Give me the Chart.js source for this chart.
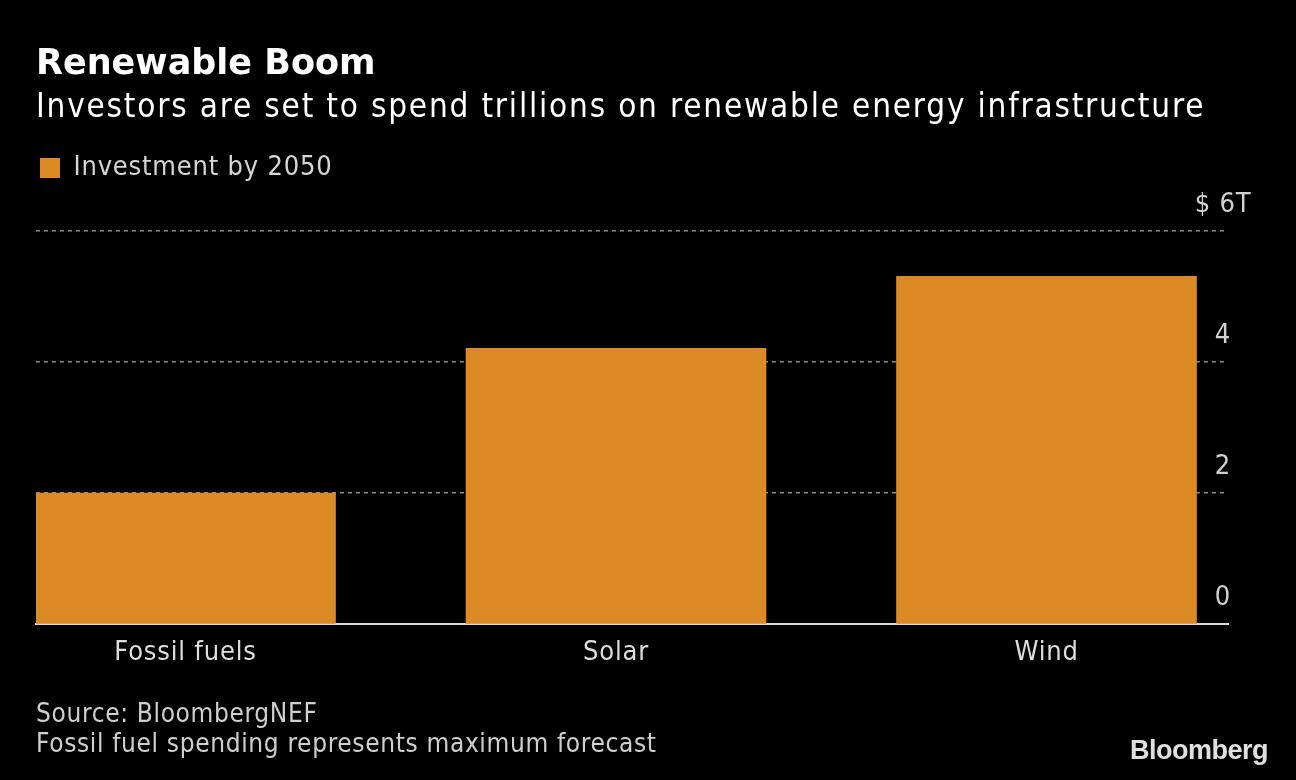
<!DOCTYPE html>
<html>
<head>
<meta charset="utf-8">
<script src="https://cdn.jsdelivr.net/npm/chart.js@4.4.0/dist/chart.umd.min.js"></script>
<style>
  html, body { margin: 0; padding: 0; background: #000; }
  #wrap { position: relative; width: 1296px; height: 780px; background: #000; overflow: hidden; }
  #c { position: absolute; left: 0; top: 0; }
  .txt { position: absolute; left: 36px; font-family: "DejaVu Sans Condensed", "DejaVu Sans", sans-serif; white-space: nowrap; line-height: 1; }
  #title { top: 45px; font-family: "DejaVu Sans", sans-serif; font-size: 35px; font-weight: bold; color: #fff; letter-spacing: 0px; }
  #subtitle { top: 89px; font-size: 33px; color: #fff; letter-spacing: 1.8px; }
  .foot { font-size: 26px; color: #cfcfcf; letter-spacing: 0.65px; line-height: 30px; }
  #logo { position: absolute; right: 28px; top: 735px; color: #e0e0e0; font-family: "Liberation Sans", Arial, sans-serif; font-weight: bold; font-size: 27px; letter-spacing: -0.5px; }
</style>
</head>
<body>
<div id="wrap">
  <canvas id="c" width="1296" height="780"></canvas>
  <div id="title" class="txt">Renewable Boom</div>
  <div id="subtitle" class="txt">Investors are set to spend trillions on renewable energy infrastructure</div>
  <div class="txt foot" style="top:698px">Source: BloombergNEF<br>Fossil fuel spending represents maximum forecast</div>
  <div id="logo">Bloomberg</div>
</div>
<script>
const categories = ["Fossil fuels", "Solar", "Wind"];
const investment = [2.0, 4.21, 5.31];
const seriesLabel = "Investment by 2050";
const yTicks = [0, 2, 4, 6];
const yTickLabels = ["0", "2", "4", "$ 6T"];

const FONT = '"DejaVu Sans Condensed", "DejaVu Sans", sans-serif';
const BAR = '#dc8a25';
const SPACING = '0.8px';

function measure(txt, size) {
  const c = document.createElement('canvas').getContext('2d');
  c.font = size + 'px ' + FONT;
  c.letterSpacing = SPACING;
  return c.measureText(txt).width;
}
const yFont = 27;
const widest = Math.max(...yTickLabels.map(t => measure(t, yFont)));

const spacingPlugin = {
  id: 'spacing',
  beforeLayout(chart) { chart.ctx.letterSpacing = SPACING; },
  beforeDraw(chart) { chart.ctx.letterSpacing = SPACING; }
};
const legendGap = {
  id: 'legendGap',
  afterInit(chart) {
    const lg = chart.legend;
    const f = lg.fit;
    lg.fit = function () { f.call(this); this.height += 39.5; };
  }
};

new Chart(document.getElementById('c'), {
  type: 'bar',
  plugins: [spacingPlugin, legendGap],
  data: {
    datasets: [{
      label: seriesLabel,
      data: investment.map((v, i) => ({ x: i, y: v })),
      backgroundColor: BAR,
      borderWidth: 0,
      barThickness: 300
    }]
  },
  options: {
    responsive: false,
    animation: false,
    devicePixelRatio: 1,
    layout: { padding: { left: 36, right: 0, top: 150.5, bottom: 97.5 } },
    plugins: {
      title: { display: false },
      legend: {
        display: true, align: 'start',
        labels: {
          color: '#d6d6d6', boxWidth: 20, boxHeight: 20, padding: 4,
          font: { family: FONT, size: 27 }
        }
      },
      tooltip: { enabled: false }
    },
    scales: {
      x: {
        type: 'linear', min: -0.3473, max: 2.4216, offset: false, z: 1,
        grid: { display: false, offset: false, drawTicks: false },
        border: { display: true, color: '#dcdcdc', width: 2 },
        afterBuildTicks: s => { s.ticks = categories.map((c, i) => ({ value: i })); },
        ticks: {
          color: '#dedede', padding: 13, maxRotation: 0, autoSkip: false,
          font: { family: FONT, size: 27 },
          callback: v => categories[v]
        }
      },
      y: {
        type: 'linear', position: 'right', min: 0, max: 6,
        afterFit: s => { s.width = 68; },
        afterBuildTicks: s => { s.ticks = yTicks.map(v => ({ value: v })); },
        grid: { color: '#8a8a8a', lineWidth: 1.5, drawTicks: false },
        border: { display: false, dash: [4, 4] },
        ticks: {
          color: '#d2d2d2', mirror: true, crossAlign: 'center', padding: widest / 2 - 5, labelOffset: -26.5,
          font: { family: FONT, size: yFont },
          callback: v => yTickLabels[yTicks.indexOf(v)]
        }
      }
    }
  }
});
</script>
</body>
</html>
